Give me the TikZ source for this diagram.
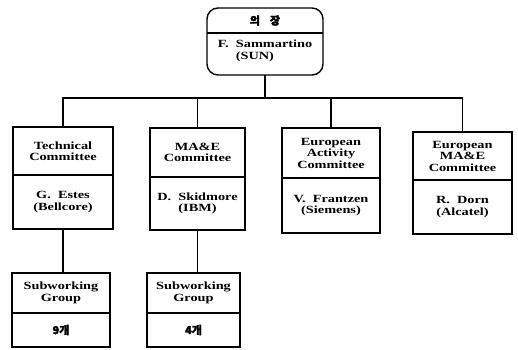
\documentclass[tikz,border=0pt]{standalone}
\usepackage{fontspec}
\setmainfont{Liberation Serif}[FakeStretch=1.3]
\newfontfamily\cjk{Noto Sans CJK KR}[FakeBold=2]
\begin{document}
\begin{tikzpicture}[x=1pt,y=-1pt, line width=1.4pt,
  font=\bfseries\fontsize{11}{11.5}\selectfont,
  cell/.style={draw, inner sep=0pt, outer sep=0pt, align=center},
  txt/.style={inner sep=0pt, outer sep=0pt, align=center}]
\useasboundingbox (0,0) rectangle (518,349);
% chairman
\node[draw, rounded corners=11pt, inner sep=0pt, outer sep=0pt, minimum width=116pt, minimum height=67pt] (chair) at (265,41.5) {};
\coordinate (div) at (265,33);
\draw (chair.west |- div) -- (chair.east |- div);
\node[txt] (chh) at (265,20.5) {\cjk 의\hspace{10pt}장};
\node[txt, align=left] (chn) at (265,51) {F.~~Sammartino\\\hspace*{18pt}(SUN)};
% committees
\node[cell, minimum width=100pt, minimum height=48pt] (t1a) at (63,151) {Technical\\Committee};
\node[cell, minimum width=100pt, minimum height=54pt] (t1b) at (63,202) {G.~~Estes\\(Bellcore)};
\node[cell, minimum width=95pt, minimum height=49pt] (t2a) at (197.5,152.5) {MA\&E\\Committee};
\node[cell, minimum width=95pt, minimum height=53pt] (t2b) at (197.5,203.5) {D.~~Skidmore\\(IBM)};
\node[cell, minimum width=98pt, minimum height=50pt] (t3a) at (331,153) {European\\Activity\\Committee};
\node[cell, minimum width=98pt, minimum height=55pt] (t3b) at (331,205.5) {V.~~Frantzen\\(Siemens)};
\node[cell, minimum width=99pt, minimum height=48pt] (t4a) at (462.5,156) {European\\MA\&E\\Committee};
\node[cell, minimum width=99pt, minimum height=54pt] (t4b) at (462.5,207) {R.~~Dorn\\(Alcatel)};
% subworking groups
\node[cell, minimum width=98pt, minimum height=40pt] (s1a) at (61,293) {Subworking\\Group};
\node[cell, minimum width=98pt, minimum height=34pt] (s1b) at (61,330) {\cjk 9개};
\node[cell, minimum width=93pt, minimum height=40pt] (s2a) at (193.5,293) {Subworking\\Group};
\node[cell, minimum width=93pt, minimum height=34pt] (s2b) at (193.5,330) {\cjk 4개};
% connectors
\coordinate (bus) at (262,98);
\draw (chair.south) -- (chair.south |- bus);
\draw (t1a.north) -- (t1a.north |- bus) -- (t4a.north |- bus) -- (t4a.north);
\draw (t2a.north) -- (t2a.north |- bus);
\draw (t3a.north) -- (t3a.north |- bus);
\draw (t1b.south) -- (t1b.south |- s1a.north);
\draw (t2b.south) -- (t2b.south |- s2a.north);
\end{tikzpicture}
\end{document}
